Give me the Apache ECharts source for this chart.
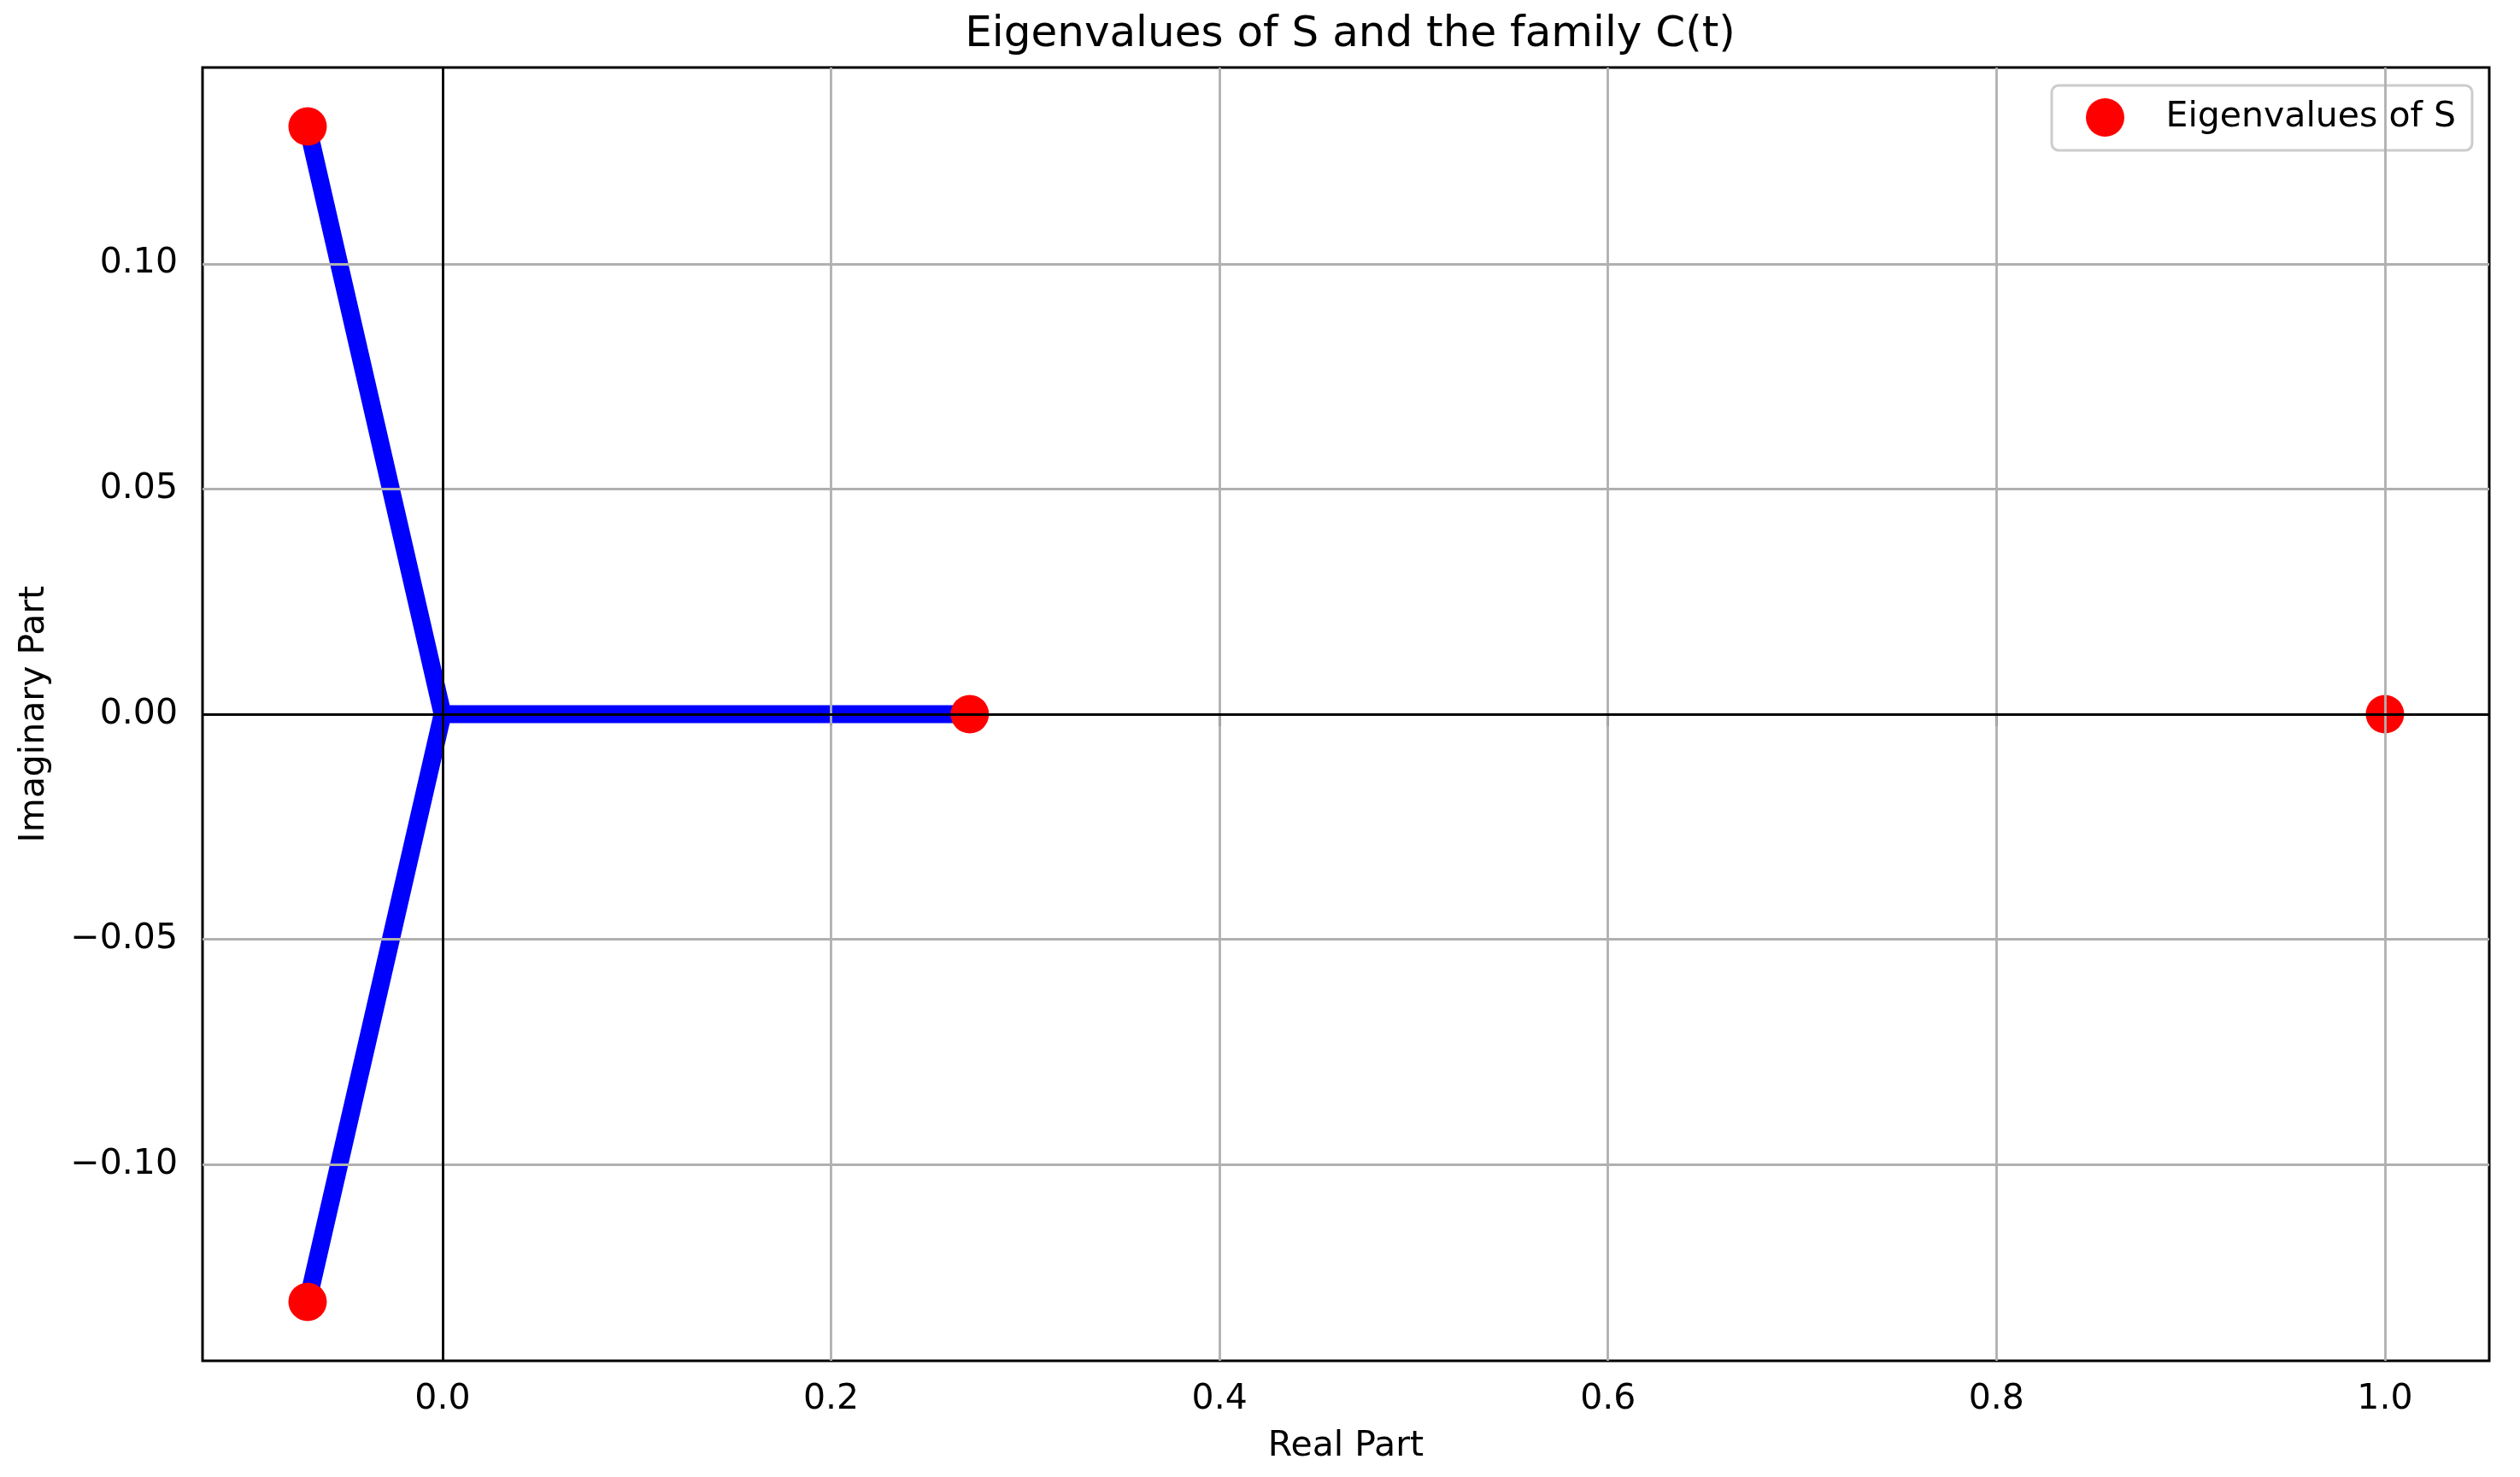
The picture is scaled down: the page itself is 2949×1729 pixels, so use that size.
<!DOCTYPE html>
<html>
<head>
<meta charset="utf-8">
<script src="https://cdn.jsdelivr.net/npm/echarts@6/dist/echarts.min.js"></script>
<style>
html,body{margin:0;padding:0;background:#fff;}
#chart{width:2949px;height:1729px;}
</style>
</head>
<body>
<div id="chart"></div>
<script>
// ---- data ----
const eigRe = [1.0, 0.2714, -0.0695, -0.0695];
const eigIm = [0.0, 0.0, 0.1305, -0.1305];
// family C(t): paths of eigenvalues, from origin to each non-unit eigenvalue of S
const pathStartRe = [0.0, 0.0, 0.0];
const pathStartIm = [0.0, 0.0, 0.0];
const pathEndRe = [0.2714, -0.0695, -0.0695];
const pathEndIm = [0.0, 0.1305, -0.1305];
const xTicks = [0.0, 0.2, 0.4, 0.6, 0.8, 1.0];
const yTicks = [-0.10, -0.05, 0.00, 0.05, 0.10];
const xMin = -0.1236, xMax = 1.0537;
const yMin = -0.1436, yMax = 0.1436;

const FONT = 'DejaVu Sans';
const chart = echarts.init(document.getElementById('chart'), null, {renderer: 'canvas'});

const eigPoints = eigRe.map((x, i) => [x, eigIm[i]]);
const pathData = [];
for (let i = 0; i < pathStartRe.length; i++) {
  if (i > 0) pathData.push([null, null]);
  pathData.push([pathStartRe[i], pathStartIm[i]]);
  pathData.push([pathEndRe[i], pathEndIm[i]]);
}
const fmtY = v => (v < 0 ? '\u2212' : '') + Math.abs(v).toFixed(2);
const fmtX = v => (v < 0 ? '\u2212' : '') + Math.abs(v).toFixed(1);

const option = {
  animation: false,
  backgroundColor: '#ffffff',
  title: {
    text: 'Eigenvalues of S and the family C(t)',
    left: 1575, top: 11, textAlign: 'center',
    textStyle: {fontFamily: FONT, fontSize: 50, fontWeight: 'normal', color: '#000'}
  },
  legend: {
    data: ['Eigenvalues of S'],
    left: 2401, top: 100,
    orient: 'vertical',
    icon: 'circle',
    itemWidth: 76, itemHeight: 45,
    padding: [15, 19, 16, 40],
    backgroundColor: 'rgba(255,255,255,0.8)',
    borderColor: '#cccccc', borderWidth: 3, borderRadius: 8,
    textStyle: {fontFamily: FONT, fontSize: 41, color: '#000', padding: [0, 0, 0, 28]}
  },
  grid: {
    left: 237, right: 36, top: 79, bottom: 136,
    show: true, borderColor: '#000', borderWidth: 3, backgroundColor: 'transparent'
  },
  xAxis: {
    type: 'value', min: xMin, max: xMax,
    name: 'Real Part', nameLocation: 'middle', nameGap: 80,
    nameTextStyle: {fontFamily: FONT, fontSize: 41, color: '#000'},
    axisLine: {show: false},
    splitLine: {show: false},
    axisTick: {show: true, length: 14, customValues: xTicks, lineStyle: {color: '#000', width: 3}},
    axisLabel: {customValues: xTicks, formatter: fmtX, margin: 25, fontFamily: FONT, fontSize: 41, color: '#000'}
  },
  yAxis: {
    type: 'value', min: yMin, max: yMax,
    name: 'Imaginary Part', nameLocation: 'middle', nameGap: 176, nameRotate: 90,
    nameTextStyle: {fontFamily: FONT, fontSize: 41, color: '#000'},
    axisLine: {show: false},
    splitLine: {show: false},
    axisTick: {show: true, length: 14, customValues: yTicks, lineStyle: {color: '#000', width: 3}},
    axisLabel: {customValues: yTicks, formatter: fmtY, margin: 29, fontFamily: FONT, fontSize: 41, color: '#000'}
  },
  series: [
    {
      name: 'grid', type: 'scatter', data: [], z: 1, silent: true,
      markLine: {
        silent: true, symbol: 'none', animation: false,
        label: {show: false},
        lineStyle: {color: '#b0b0b0', width: 2.8, type: 'solid'},
        data: xTicks.map(v => ({xAxis: v})).concat(yTicks.map(v => ({yAxis: v})))
      }
    },
    {
      name: 'C(t) family', type: 'line', data: pathData, z: 2,
      showSymbol: false, symbol: 'none', connectNulls: false,
      lineStyle: {color: '#0000ff', width: 21, cap: 'butt', join: 'miter'},
      silent: true
    },
    {
      name: 'zero', type: 'scatter', data: [], z: 3, silent: true,
      markLine: {
        silent: true, symbol: 'none', animation: false,
        label: {show: false},
        lineStyle: {color: '#000000', width: 2.8, type: 'solid'},
        data: [{xAxis: 0}, {yAxis: 0}]
      }
    },
    {
      name: 'Eigenvalues of S', type: 'scatter', data: eigPoints, z: 4,
      symbol: 'circle', symbolSize: 45,
      itemStyle: {color: '#ff0000', opacity: 1}
    }
  ]
};
chart.setOption(option);
</script>
</body>
</html>
